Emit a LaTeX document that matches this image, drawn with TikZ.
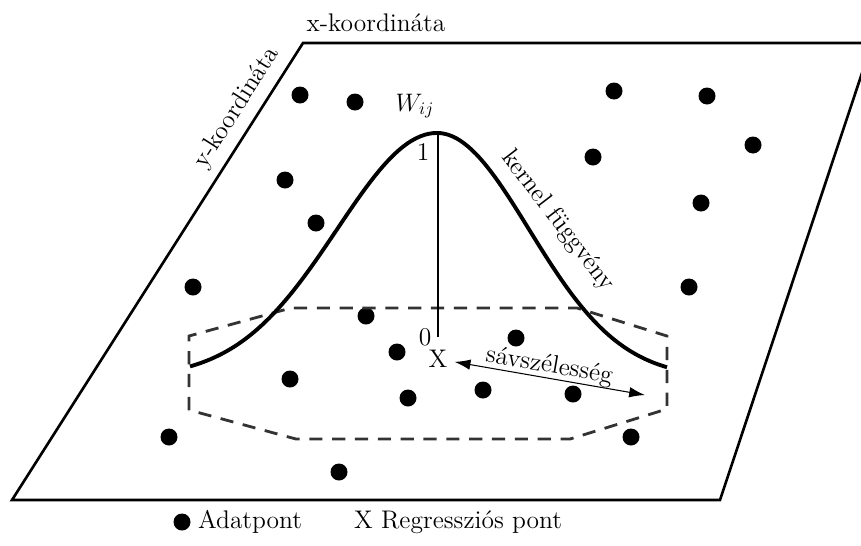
\documentclass[tikz,border=0pt]{standalone}
\usepackage{xcolor}
\usepackage{amsmath, amssymb}
\usepackage{tikz}
\usetikzlibrary{arrows.meta, calc}

\begin{document}
\begin{tikzpicture}[x=0.02cm, y=-0.02cm,
  adat/.style={circle, fill=black, inner sep=0pt, minimum size=0.34cm},
  felirat/.style={font=\fontsize{14.5}{16}\selectfont, inner sep=1pt},
  ablak/.style={line width=1.6pt, black!80, dash pattern=on 7.5pt off 5.5pt}]
\useasboundingbox (0,0) rectangle (861,545);
\clip (0,0) rectangle (861,545);

% Plane
\draw[line width=1.5pt] (12,500) -- (303,43) -- (872,43) -- (720,500) -- cycle;
\node[felirat] (xkoord) at (376,23) {x-koordináta};
\node[felirat, rotate=57.5] (ykoord) at (237,108) {y-koordináta};

% Data points
\foreach \px/\py [count=\i] in {300/95, 355/102, 285/180, 316/223, 193/287, 366/316,
    397/352, 290/379, 408/398, 483/390, 516/338, 573/394, 631/437, 169/437,
    339/472, 614/91, 707/96, 753/145, 593/157, 701/203, 689/287}
  \node[adat] (p\i) at (\px,\py) {};

% Bandwidth window
\draw[ablak] (189,410) -- (189,336) -- (291,308) -- (577,308) -- (667,336)
  -- (667,409) -- (570,439) -- (296,439) -- cycle;

% Kernel function
\draw[line width=2.2pt, line join=round]
  plot[domain=190:437, samples=60] (\x, {133+245*(1-exp(-((\x-437)/100)^2/2))})
  -- plot[domain=437:667, samples=60] (\x, {133+245*(1-exp(-((\x-437)/92)^2/2))});
\node[felirat, rotate=-52.5] (kernel) at (558,221) {kernel függvény};

% Weight axis
\coordinate (csucs) at (438,134);
\coordinate (alap) at (438,337);
\draw[line width=1.1pt] (csucs) -- (alap);
\node[felirat] (wij) at (415,106) {$W_{ij}$};
\node[felirat] (egy) at (423,152) {1};
\node[felirat] (nulla) at (425,337) {0};
\node[felirat] (regpont) at (438,359) {X};

% Bandwidth
\coordinate (savveg) at (645,395);
\draw[{Latex[length=9pt,width=6pt]}-{Latex[length=9pt,width=6pt]}, line width=0.6pt,
  shorten <=3pt] (regpont) -- (savveg)
  node[felirat, midway, sloped, above=-1pt] (sav) {sávszélesség};

% Legend
\node[adat] (legpont) at (182,522) {};
\node[felirat, anchor=west] (legadat) at (196,522) {Adatpont};
\node[felirat, anchor=west] (legx) at (352,522) {X Regressziós pont};
\end{tikzpicture}
\end{document}
